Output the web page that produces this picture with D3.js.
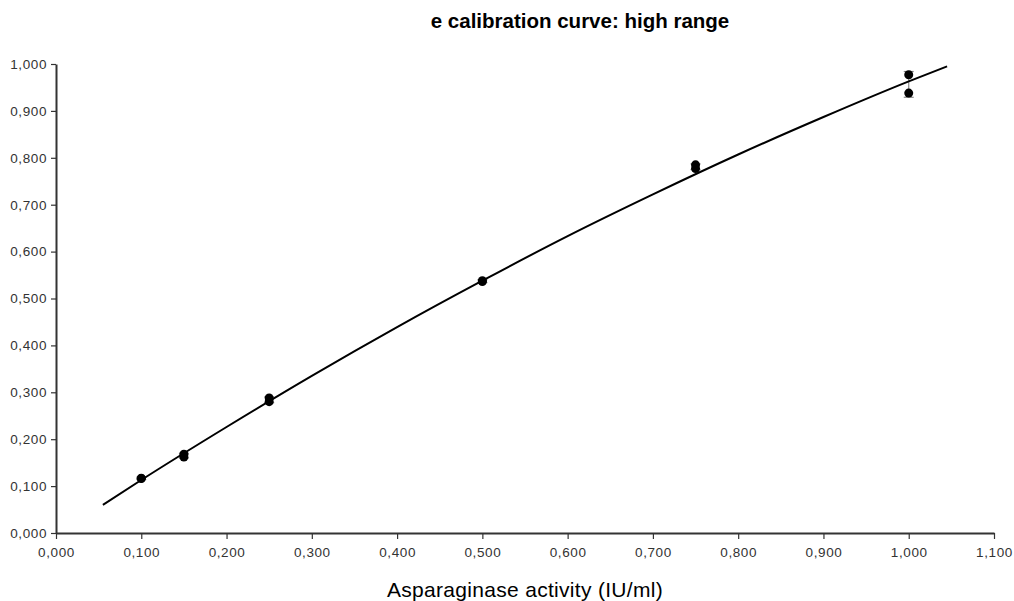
<!DOCTYPE html>
<html>
<head>
<meta charset="utf-8">
<script src="https://cdn.jsdelivr.net/npm/d3@7"></script>
<style>
  body { margin: 0; background: #fff; }
</style>
</head>
<body>
<svg id="chart" width="1014" height="601" font-family="Liberation Sans, Arial, sans-serif"></svg>
<script>
// replicate measurements (activity, absorbance)
const activity = [0.1, 0.1, 0.15, 0.15, 0.25, 0.25, 0.5, 0.5, 0.75, 0.75, 1.0, 1.0];
const absorbance = [0.117, 0.116, 0.168, 0.162, 0.288, 0.280, 0.538, 0.536, 0.785, 0.777, 0.977, 0.938];

// error bars per concentration
const errX = [0.1, 0.15, 0.25, 0.5, 0.75, 1.0];
const errLow = [0.114, 0.160, 0.278, 0.534, 0.775, 0.929];
const errHigh = [0.119, 0.170, 0.290, 0.540, 0.787, 0.984];

// fitted curve
const curveX = [0.055, 0.1, 0.2, 0.3, 0.4, 0.5, 0.6, 0.7, 0.8, 0.9, 1.0, 1.045];
const curveY = [0.060, 0.113, 0.226, 0.335, 0.439, 0.538, 0.633, 0.722, 0.807, 0.887, 0.963, 0.995];

const xTicks = [0, 0.1, 0.2, 0.3, 0.4, 0.5, 0.6, 0.7, 0.8, 0.9, 1.0, 1.1];
const yTicks = [0, 0.1, 0.2, 0.3, 0.4, 0.5, 0.6, 0.7, 0.8, 0.9, 1.0];

const title = "e calibration curve: high range";
const xLabel = "Asparaginase activity (IU/ml)";

const svg = d3.select("#chart");

const x = d3.scaleLinear().domain([0, 1.1]).range([56, 994]);
const y = d3.scaleLinear().domain([0, 1.0]).range([533, 64]);

// comma as decimal separator
const loc = d3.formatLocale({ decimal: ",", thousands: ".", grouping: [3], currency: ["", ""] });
const fmt = loc.format(".3f");

const xAxis = svg.append("g")
    .attr("transform", `translate(0,${y(0)})`)
    .call(d3.axisBottom(x).tickValues(xTicks).tickFormat(fmt).tickSize(6).tickSizeOuter(0));
const yAxis = svg.append("g")
    .attr("transform", `translate(${x(0)},0)`)
    .call(d3.axisLeft(y).tickValues(yTicks).tickFormat(fmt).tickSize(5).tickSizeOuter(0));

[xAxis, yAxis].forEach(g => {
    g.attr("font-size", 13.5).attr("font-family", "Liberation Sans, Arial, sans-serif")
        .attr("letter-spacing", 0.6);
    g.select(".domain").attr("stroke", "#333").attr("stroke-width", 2);
    g.selectAll(".tick line").attr("stroke", "#333").attr("stroke-width", 1.2);
    g.selectAll(".tick text").attr("fill", "#333");
});
xAxis.selectAll(".tick text").attr("y", 10).attr("dy", "1.05em");
yAxis.selectAll(".tick text").attr("x", -9);

// error bars
const eb = svg.append("g").attr("stroke", "#888").attr("stroke-width", 1.2);
errX.forEach((v, i) => {
    const cx = x(v);
    eb.append("line").attr("x1", cx).attr("x2", cx).attr("y1", y(errLow[i])).attr("y2", y(errHigh[i]));
    eb.append("line").attr("x1", cx - 5).attr("x2", cx + 5).attr("y1", y(errLow[i])).attr("y2", y(errLow[i]));
    eb.append("line").attr("x1", cx - 5).attr("x2", cx + 5).attr("y1", y(errHigh[i])).attr("y2", y(errHigh[i]));
});

// fitted curve
const line = d3.line().x(d => x(d[0])).y(d => y(d[1])).curve(d3.curveMonotoneX);
svg.append("path")
    .datum(curveX.map((v, i) => [v, curveY[i]]))
    .attr("d", line)
    .attr("fill", "none")
    .attr("stroke", "#000")
    .attr("stroke-width", 2);

// points
svg.append("g").selectAll("circle")
    .data(activity.map((v, i) => [v, absorbance[i]]))
    .enter().append("circle")
    .attr("cx", d => x(d[0]))
    .attr("cy", d => y(d[1]))
    .attr("r", 4.5)
    .attr("fill", "#000");

svg.append("text")
    .attr("x", 580).attr("y", 28)
    .attr("text-anchor", "middle")
    .attr("font-size", 20.5).attr("font-weight", "bold")
    .text(title);

svg.append("text")
    .attr("x", (x(0) + x(1.1)) / 2).attr("y", 597)
    .attr("text-anchor", "middle")
    .attr("font-size", 21).attr("letter-spacing", 0.3)
    .text(xLabel);
</script>
</body>
</html>
